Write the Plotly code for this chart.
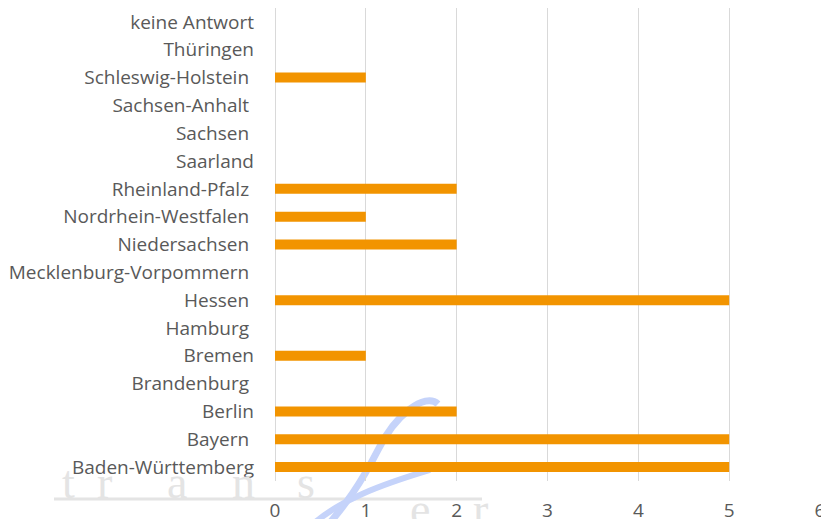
import plotly.graph_objects as go

# ---- data ----
categories = [
    "Baden-Württemberg", "Bayern\u00a0", "Berlin", "Brandenburg\u00a0", "Bremen",
    "Hamburg\u00a0", "Hessen\u00a0", "Mecklenburg-Vorpommern\u00a0", "Niedersachsen\u00a0",
    "Nordrhein-Westfalen\u00a0", "Rheinland-Pfalz\u00a0", "Saarland", "Sachsen\u00a0",
    "Sachsen-Anhalt\u00a0", "Schleswig-Holstein\u00a0", "Thüringen", "keine Antwort",
]
values = [5, 5, 2, 0, 1, 0, 5, 0, 2, 1, 2, 0, 0, 0, 1, 0, 0]
x_ticks = [0, 1, 2, 3, 4, 5, 6]

W, H = 821, 519
# plot area in page pixels
PX0, PX1, PY0, PY1 = 275, 821, 8, 481
L, R = PX0, W - PX1
T, B = PY0, H - PY1
PW, PH = PX1 - PX0, PY1 - PY0


def px(x):
    return (x - PX0) / PW


def py(y):
    return (PY1 - y) / PH


fig = go.Figure(go.Bar(
    y=categories, x=values, orientation="h",
    marker=dict(color="#F29400", line=dict(width=0)),
    width=0.36,
))

label_font = dict(family="'Open Sans', sans-serif", size=19, color="#595959")

fig.update_layout(
    width=W, height=H,
    margin=dict(l=L, r=R, t=T, b=B, pad=0),
    plot_bgcolor="white", paper_bgcolor="white",
    showlegend=False,
    xaxis=dict(range=[0, 6.011], tickvals=x_ticks, showgrid=True, gridcolor="#d9d9d9",
               gridwidth=1, zeroline=True, zerolinecolor="#d9d9d9", zerolinewidth=1,
               showline=False, tickfont=label_font, ticklabelstandoff=16,
               ticklabeloverflow="allow",
               automargin=False, fixedrange=True),
    yaxis=dict(categoryorder="array", categoryarray=categories, showgrid=False,
               zeroline=False, showline=False, tickfont=label_font,
               ticklabelstandoff=20, automargin=False, range=[-0.5, 16.5],
               fixedrange=True),
)

# ---- watermark (decorative) ----
gray = "#e4e4e4"
fig.add_shape(type="line", xref="paper", yref="paper",
              x0=px(54), x1=px(482), y0=py(499), y1=py(499),
              line=dict(color=gray, width=3), layer="below")
letters = [("t", 68), ("r", 104), ("a", 177), ("n", 243), ("s", 306)]
for ch, cx in letters:
    fig.add_annotation(text=ch, x=px(cx), y=py(510), xref="paper", yref="paper",
                       xanchor="center", yanchor="bottom", showarrow=False,
                       font=dict(family="Liberation Serif", size=46, color=gray))
for ch, cx in [("e", 420), ("r", 480)]:
    fig.add_annotation(text=ch, x=px(cx), y=py(537), xref="paper", yref="paper",
                       xanchor="center", yanchor="bottom", showarrow=False,
                       font=dict(family="Liberation Serif", size=46, color=gray))


def path(points):
    p = "M {:.4f},{:.4f}".format(px(points[0][0]), py(points[0][1]))
    rest = points[1:]
    for i in range(0, len(rest), 3):
        a, b, c = rest[i:i + 3]
        p += " C {:.4f},{:.4f} {:.4f},{:.4f} {:.4f},{:.4f}".format(
            px(a[0]), py(a[1]), px(b[0]), py(b[1]), px(c[0]), py(c[1]))
    return p


blue = "rgb(197,211,250)"
fig.add_shape(type="path", xref="paper", yref="paper", layer="below",
              path=path([(438, 404), (425, 392), (395, 415), (378, 450),
                         (360, 485), (345, 505), (328, 525)]),
              line=dict(color=blue, width=7))
fig.add_shape(type="path", xref="paper", yref="paper", layer="below",
              path=path([(312, 525), (340, 500), (380, 485), (430, 470)]),
              line=dict(color=blue, width=6))

fig.write_html(
    "out.html",
    config={"displayModeBar": False},
    post_script="document.body.style.margin='0';document.body.style.overflow='hidden';",
)
